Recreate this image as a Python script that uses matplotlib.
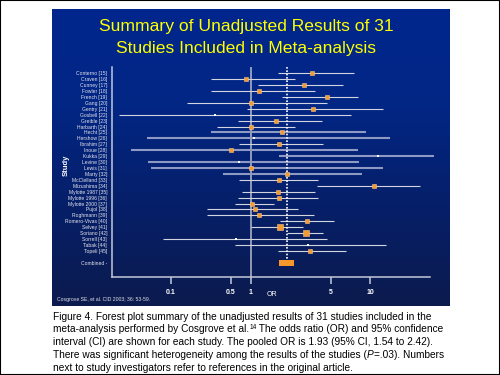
import numpy as np
import matplotlib.pyplot as plt
from matplotlib.patches import Rectangle
from matplotlib.colors import LinearSegmentedColormap

plt.rcParams['font.family'] = ['Liberation Sans', 'DejaVu Sans']

# data
studies = ['Conterno [15]', 'Craven [16]', 'Cunney [17]', 'Fowler [18]', 'French [19]',
           'Gang [20]', 'Gentry [21]', 'Gosbell [22]', 'Greible [23]', 'Harbarth [24]',
           'Hecht [25]', 'Hershow [26]', 'Ibrahim [27]', 'Inoue [28]', 'Kukka [29]',
           'Levine [30]', 'Lewis [31]', 'Marty [32]', 'McClelland [33]', 'Mizushima [34]',
           'Mylotte 1987 [35]', 'Mylotte 1996 [36]', 'Mylotte 2000 [37]', 'Pujol [38]',
           'Roghmann [39]', 'Romero-Vivas [40]', 'Selvey [41]', 'Soriano [42]',
           'Sorrell [43]', 'Tabak [44]', 'Topeli [45]']
odds_ratio = [3.41, 0.84, 2.90, 1.17, 4.61, 1.00, 3.48, 0.33, 1.65, 1.00,
              1.87, 1.06, 1.76, 0.50, 11.4, 0.66, 1.00, 2.06, 1.76, 10.6,
              1.72, 1.76, 1.02, 1.08, 1.17, 3.09, 1.79, 3.02, 0.60, 3.15, 3.28]
ci_low = [1.72, 0.29, 1.16, 0.29, 1.87, 0.154, 0.87, 0.025, 0.64, 0.34,
          0.29, 0.053, 0.66, 0.034, 1.76, 0.054, 0.059, 0.40, 0.66, 3.77,
          0.73, 0.64, 0.57, 0.26, 0.26, 1.79, 1.00, 2.06, 0.081, 0.57, 1.72]
ci_high = [7.49, 2.42, 6.17, 3.62, 8.03, 4.61, 12.45, 7.10, 4.17, 2.42,
           9.24, 14.1, 4.26, 8.03, 30.5, 8.17, 12.45, 8.61, 3.85, 23.8,
           3.62, 3.85, 1.59, 2.60, 3.55, 5.27, 2.85, 4.26, 4.61, 13.1, 6.51]
pooled_or = 2.05
pooled_low, pooled_high = 1.76, 2.38

tick_vals = [0.1, 0.5, 1, 5, 10]
tick_labels = ['0.1', '0.5', '1', '5', '10']

# caption lines as runs of (text, kind): kind is '', 'sup' or 'it'
caption = [
    [('Figure 4. Forest plot summary of the unadjusted results of 31 studies included in the', '')],
    [('meta-analysis performed by Cosgrove et al.', ''), ('14', 'sup'),
     (' The odds ratio (OR) and 95% confidence', '')],
    [('interval (CI) are shown for each study. The pooled OR is 1.93 (95% CI, 1.54 to 2.42).', '')],
    [('There was significant heterogeneity among the results of the studies (', ''), ('P', 'it'),
     ('=.03). Numbers', '')],
    [('next to study investigators refer to references in the original article.', '')],
]

# styling groups
wide_rows = {'Hecht [25]', 'Hershow [26]', 'Inoue [28]', 'Kukka [29]',
             'Levine [30]', 'Lewis [31]', 'Marty [32]'}
white_marks = {'Gosbell [22]', 'Hershow [26]', 'Kukka [29]', 'Levine [30]',
               'Sorrell [43]', 'Tabak [44]'}
big_marks = {'Romero-Vivas [40]': 3.0, 'Selvey [41]': 3.8, 'Soriano [42]': 3.8}

# the slide's axis is not a true log axis, so use a piecewise log scale through its ticks
knot_log = np.log10([0.01, 0.1, 0.5, 1, 5, 10, 100])
knot_pos = [85.2, 171, 231, 251, 331, 370.5, 501.7]


def fwd(x):
    return np.interp(np.log10(np.clip(x, 1e-9, None)), knot_log, knot_pos)


def inv(p):
    return 10 ** np.interp(p, knot_pos, knot_log)


fig = plt.figure(figsize=(5, 3.75), dpi=100)
fig.patch.set_facecolor('white')

# blue slide background
bg = fig.add_axes([52 / 500, 1 - 306 / 375, 398 / 500, 297 / 375])
cmap = LinearSegmentedColormap.from_list('slide', ['#00278e', '#022684', '#061f68', '#0c1b4e'])
bg.imshow(np.linspace(0, 1, 256)[:, None], aspect='auto', cmap=cmap, extent=[0, 1, 0, 1])
bg.axis('off')

ax = fig.add_axes([112 / 500, 1 - 277 / 375, 318 / 500, 210 / 375])
ax.set_facecolor('none')
ax.set_xscale('function', functions=(fwd, inv))

y_comb = len(studies) + 1
for i, name in enumerate(studies):
    wide = name in wide_rows
    ax.hlines(i, ci_low[i], ci_high[i], colors='#8f9ac4' if wide else '#d2d5e0',
              lw=1.5 if wide else 0.8, clip_on=False, zorder=3)

ax.axvline(1, color='#b8bccf', lw=1.1, zorder=2)
ax.vlines(pooled_or, -1.0, y_comb - 0.5, colors='white', linestyles=(0, (1, 1)),
          lw=1.2, zorder=4)

for i, name in enumerate(studies):
    if name in white_marks:
        ax.plot(odds_ratio[i], i, 's', ms=1.6, mfc='white', mec='white', mew=0, zorder=5)
    else:
        ax.plot(odds_ratio[i], i, 's', ms=big_marks.get(name, 2.2), mfc='#f59a2e',
                mec='#f8c48a', mew=0.4, zorder=5)

ax.barh(y_comb, pooled_high - pooled_low, left=pooled_low, height=0.95,
        color='#f7962a', zorder=5)

ax.set_xlim(0.0206, 28.4)
ax.set_ylim(34.41, -1.064)

for s in ['top', 'right']:
    ax.spines[s].set_visible(False)
for s in ['left', 'bottom']:
    ax.spines[s].set_color('#c4c8d8')
    ax.spines[s].set_linewidth(1.1)

ax.set_yticks(list(range(len(studies))) + [y_comb])
ax.set_yticklabels(studies + ['Combined -'], fontsize=3.6, color='#e4e4ec')
ax.tick_params(axis='y', length=0, pad=3.5)
ax.set_xticks(tick_vals)
ax.set_xticklabels(tick_labels, fontsize=5, fontweight='bold', color='white')
ax.xaxis.set_minor_locator(plt.NullLocator())
ax.tick_params(axis='x', direction='out', length=5, width=1.1, color='#c4c8d8', pad=4)

fig.text(246 / 500, 1 - 27 / 375, 'Summary of Unadjusted Results of 31',
         ha='center', va='center', color='#ffff00', fontsize=12.6)
fig.text(246 / 500, 1 - 48 / 375, 'Studies Included in Meta-analysis',
         ha='center', va='center', color='#ffff00', fontsize=12.6)
fig.text(66 / 500, 1 - 165 / 375, 'Study', rotation=90, ha='center', va='center',
         color='white', fontsize=5.5, fontweight='bold')
fig.text(272 / 500, 1 - 294 / 375, 'OR', ha='center', va='center', color='white', fontsize=5)
fig.text(57 / 500, 1 - 300 / 375, 'Cosgrove SE, et al. CID 2003; 36: 53-59.',
         ha='left', va='center', color='#e0e0e8', fontsize=3.7)

# caption: draw each run after the previous one so the superscript / italic sit inline
renderer = fig.canvas.get_renderer()
for k, runs in enumerate(caption):
    x = 53
    base = 319.8 + 12.7 * k
    for txt, kind in runs:
        size = 4.8 if kind == 'sup' else 7.3
        rise = 3.6 if kind == 'sup' else 0
        t = fig.text(x / 500, 1 - (base - rise) / 375, txt, ha='left', va='baseline',
                     color='black', fontsize=size,
                     style='italic' if kind == 'it' else 'normal')
        x = t.get_window_extent(renderer).x1

fig.add_artist(Rectangle((0, 0), 1, 1, transform=fig.transFigure, fill=False,
                         ec='black', lw=1.5))

fig.savefig('out.png', dpi=100)
